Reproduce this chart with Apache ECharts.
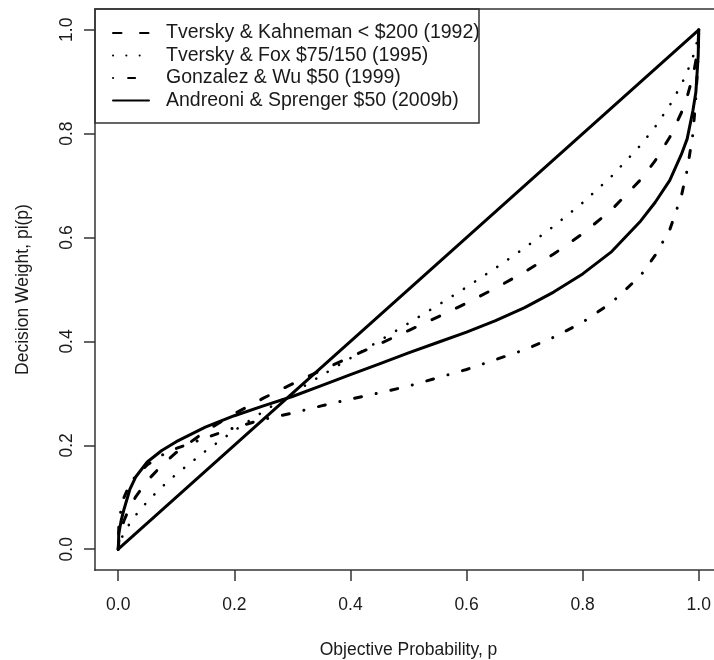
<!DOCTYPE html>
<html><head><meta charset="utf-8">
<script src="https://cdn.jsdelivr.net/npm/echarts@6/dist/echarts.min.js"></script>
<style>html,body{margin:0;padding:0;background:#fff;overflow:hidden}#c{width:714px;height:660px}</style>
</head><body><div id="c"></div>
<script>
// Objective probability grid shared by all curves
const pGrid = [0,0.001,0.005,0.01,0.02,0.03,0.05,0.075,0.1,0.15,0.2,0.25,0.3,0.35,0.4,0.45,0.5,0.55,0.6,0.65,0.7,0.75,0.8,0.85,0.9,0.925,0.95,0.97,0.98,0.99,0.995,0.999,1];
// Decision weights
const tk1992 = [0,0.0145,0.0372,0.0553,0.0811,0.1008,0.1317,0.1615,0.1863,0.2269,0.2608,0.2908,0.3184,0.3446,0.370,0.3953,0.421,0.4467,0.4739,0.5026,0.5338,0.5682,0.6074,0.6537,0.7117,0.7482,0.7931,0.8403,0.871,0.9115,0.9401,0.9766,1];
const tf1995 = [0,0.0065,0.0196,0.0313,0.0499,0.0654,0.0917,0.1197,0.1446,0.1887,0.2284,0.2651,0.3003,0.3344,0.3679,0.4013,0.435,0.4693,0.5046,0.5413,0.580,0.6217,0.667,0.7182,0.778,0.8134,0.8545,0.8944,0.9187,0.948,0.9675,0.989,1];
const gw1999 = [0,0.043,0.079,0.100,0.125,0.141,0.1625,0.181,0.194,0.214,0.234,0.250,0.262,0.276,0.289,0.301,0.314,0.330,0.346,0.365,0.384,0.408,0.437,0.475,0.527,0.566,0.615,0.68,0.73,0.80,0.87,0.95,1];
const as2009 = [0,0.03,0.055,0.077,0.115,0.139,0.168,0.19,0.207,0.235,0.257,0.276,0.294,0.315,0.336,0.357,0.378,0.398,0.418,0.44,0.465,0.495,0.53,0.573,0.632,0.668,0.71,0.76,0.79,0.845,0.88,0.95,1];
const diagP = [0, 1];
const diagW = [0, 1];
const seriesNames = ['Tversky & Kahneman < $200 (1992)','Tversky & Fox $75/150 (1995)','Gonzalez & Wu $50 (1999)','Andreoni & Sprenger $50 (2009b)'];
const tickValues = [0,0.2,0.4,0.6,0.8,1.0];
const tickLabels = ['0.0','0.2','0.4','0.6','0.8','1.0'];
const xTitle = 'Objective Probability, p';
const yTitle = 'Decision Weight, pi(p)';

const zip = (xs, ys) => xs.map((x, i) => [x, ys[i]]);
const FONT = '"Liberation Sans", Arial, sans-serif';
const TXT = '#1a1a1a';
const lab = v => { const i = tickValues.findIndex(t => Math.abs(t - v) < 1e-9); return i >= 0 ? tickLabels[i] : ''; };
const boxLine = (x1, y1, x2, y2) => ({ type: 'line', shape: { x1, y1, x2, y2 }, style: { stroke: '#333', lineWidth: 1.5 }, silent: true, z: 100 });

const base = { type: 'line', showSymbol: false, symbol: 'none', silent: true, animation: false };
const chart = echarts.init(document.getElementById('c'), null, { renderer: 'canvas' });
chart.setOption({
  backgroundColor: '#fff',
  animation: false,
  grid: { left: 95, top: 9, width: 627, height: 561, show: false, containLabel: false, outerBoundsMode: 'none' },
  xAxis: {
    type: 'value', min: -0.04, max: 1.04,
    name: xTitle, nameLocation: 'middle', nameGap: 71,
    nameTextStyle: { fontSize: 17.5, fontFamily: FONT, color: TXT },
    axisLine: { show: false, onZero: false },
    axisTick: { show: true, customValues: tickValues, length: 11, lineStyle: { color: '#333', width: 1.5 } },
    axisLabel: { customValues: tickValues, formatter: lab, fontSize: 17.5, fontFamily: FONT, color: TXT, margin: 26.5 },
    splitLine: { show: false }
  },
  yAxis: {
    type: 'value', min: -0.04, max: 1.04,
    name: yTitle, nameLocation: 'middle', nameGap: 63,
    nameTextStyle: { fontSize: 17.5, fontFamily: FONT, color: TXT },
    axisLine: { show: false, onZero: false },
    axisTick: { show: true, customValues: tickValues, length: 11, lineStyle: { color: '#333', width: 1.5 } },
    axisLabel: { customValues: tickValues, formatter: lab, rotate: 90, fontSize: 17.5, fontFamily: FONT, color: TXT, margin: 19 },
    splitLine: { show: false }
  },
  legend: {
    data: seriesNames, orient: 'vertical', left: 112, top: 21.75, padding: 0, itemGap: 0,
    itemWidth: 36, itemHeight: 10, selectedMode: false,
    itemStyle: { color: 'rgba(0,0,0,0)', borderWidth: 0, opacity: 0 },
    textStyle: { fontSize: 19.5, fontFamily: FONT, color: TXT, lineHeight: 22.5, padding: [0, 0, 0, 12] }
  },
  graphic: [
    boxLine(94.25, 9, 760, 9),
    boxLine(95, 9, 95, 570.75),
    boxLine(94.25, 570, 760, 570),
    { type: 'rect', shape: { x: 95, y: 9, width: 384, height: 114 }, style: { fill: null, stroke: '#333', lineWidth: 1.5 }, silent: true, z: 100 }
  ],
  series: [
    Object.assign({}, base, { name: seriesNames[0], data: zip(pGrid, tk1992), lineStyle: { color: '#000', width: 3, type: [8.5, 18.5], cap: 'round', join: 'round' }, itemStyle: { color: '#000' } }),
    Object.assign({}, base, { name: seriesNames[1], data: zip(pGrid, tf1995), lineStyle: { color: '#000', width: 2.6, type: [0.1, 13.2], cap: 'round', join: 'round' }, itemStyle: { color: '#000' } }),
    Object.assign({}, base, { name: seriesNames[2], data: zip(pGrid, gw1999), lineStyle: { color: '#000', width: 3, type: [0.1, 15, 7, 15], cap: 'round', join: 'round' }, itemStyle: { color: '#000' } }),
    Object.assign({}, base, { name: seriesNames[3], data: zip(pGrid, as2009), lineStyle: { color: '#000', width: 3, type: 'solid', cap: 'round', join: 'round' }, itemStyle: { color: '#000' } }),
    Object.assign({}, base, { name: 'diagonal', data: zip(diagP, diagW), lineStyle: { color: '#000', width: 3, type: 'solid', cap: 'round' }, itemStyle: { color: '#000' } })
  ]
});
</script></body></html>
